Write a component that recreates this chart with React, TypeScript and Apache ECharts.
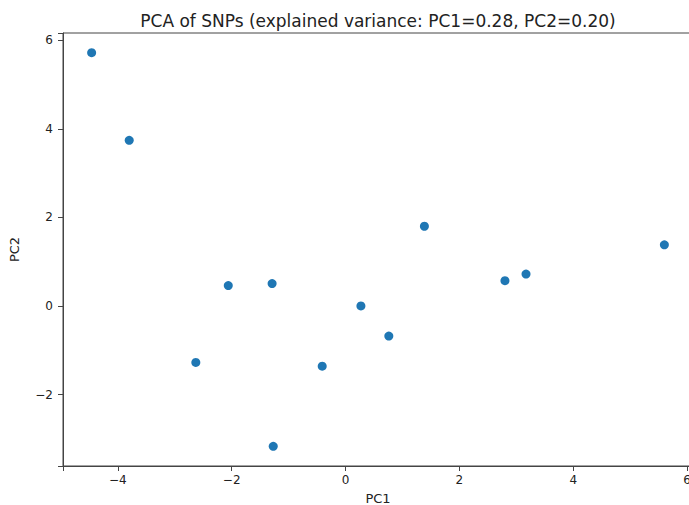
import React, { useEffect, useRef } from "react";
import * as echarts from "echarts";

const pc1: number[] = [-4.46, -3.8, 1.385, 5.6, -2.06, -1.29, 0.27, 2.8, 3.17, -2.63, -0.41, 0.76, -1.27];
const pc2: number[] = [5.72, 3.74, 1.8, 1.38, 0.46, 0.505, 0.0, 0.57, 0.72, -1.275, -1.36, -0.68, -3.17];
const titleText = "PCA of SNPs (explained variance: PC1=0.28, PC2=0.20)";
const xName = "PC1";
const yName = "PC2";

const FONT = "DejaVu Sans";

function fmt(v: number): string {
  const r = Math.round(v);
  if (Math.abs(v - r) > 1e-6 || r % 2 !== 0) return "";
  return r < 0 ? "\u2212" + String(-r) : String(r);
}

export default function App() {
  const ref = useRef<HTMLDivElement>(null);
  useEffect(() => {
    if (!ref.current) return;
    const chart = echarts.init(ref.current, undefined, { renderer: "svg" });
    const xmin = Math.min(...pc1), xmax = Math.max(...pc1);
    const ymin = Math.min(...pc2), ymax = Math.max(...pc2);
    const mx = (xmax - xmin) * 0.05, my = (ymax - ymin) * 0.05;
    const data = pc1.map((x, i) => [x, pc2[i]]);
    chart.setOption({
      animation: false,
      backgroundColor: "#ffffff",
      title: {
        text: titleText,
        left: 378,
        top: 12,
        padding: 0,
        textAlign: "center",
        textStyle: { fontFamily: FONT, fontSize: 17, fontWeight: "normal", color: "#222" },
      },
      grid: {
        left: 63,
        top: 33,
        right: -4,
        bottom: 39,
        outerBoundsMode: "none",
        containLabel: false,
        show: true,
        borderColor: "#444",
        borderWidth: 1,
        backgroundColor: "transparent",
      },
      xAxis: {
        type: "value",
        min: xmin - mx,
        max: xmax + mx,
        splitNumber: 5,
        name: xName,
        nameLocation: "middle",
        nameGap: 26,
        nameTextStyle: { fontFamily: FONT, fontSize: 13, color: "#222" },
        axisLine: { show: true, onZero: false, lineStyle: { color: "#444", width: 1 } },
        axisTick: { show: true, length: 5, inside: false, lineStyle: { color: "#444" } },
        axisLabel: { formatter: fmt, margin: 8, fontFamily: FONT, fontSize: 12, color: "#222", hideOverlap: false },
        splitLine: { show: false },
      },
      yAxis: {
        type: "value",
        min: ymin - my,
        max: ymax + my,
        splitNumber: 5,
        name: yName,
        nameLocation: "middle",
        nameGap: 42,
        nameTextStyle: { fontFamily: FONT, fontSize: 13, color: "#222" },
        axisLine: { show: true, onZero: false, lineStyle: { color: "#444", width: 1 } },
        axisTick: { show: true, length: 5, inside: false, lineStyle: { color: "#444" } },
        axisLabel: { formatter: fmt, margin: 10, fontFamily: FONT, fontSize: 12, color: "#222", hideOverlap: false },
        splitLine: { show: false },
      },
      series: [
        {
          type: "scatter",
          data,
          symbol: "circle",
          symbolSize: 9,
          itemStyle: { color: "#1f77b4", opacity: 1 },
        },
      ],
    });
    return () => chart.dispose();
  }, []);
  return (
    <div
      ref={ref}
      style={{ position: "absolute", left: 0, top: 0, width: 689, height: 505, background: "#fff" }}
    />
  );
}
